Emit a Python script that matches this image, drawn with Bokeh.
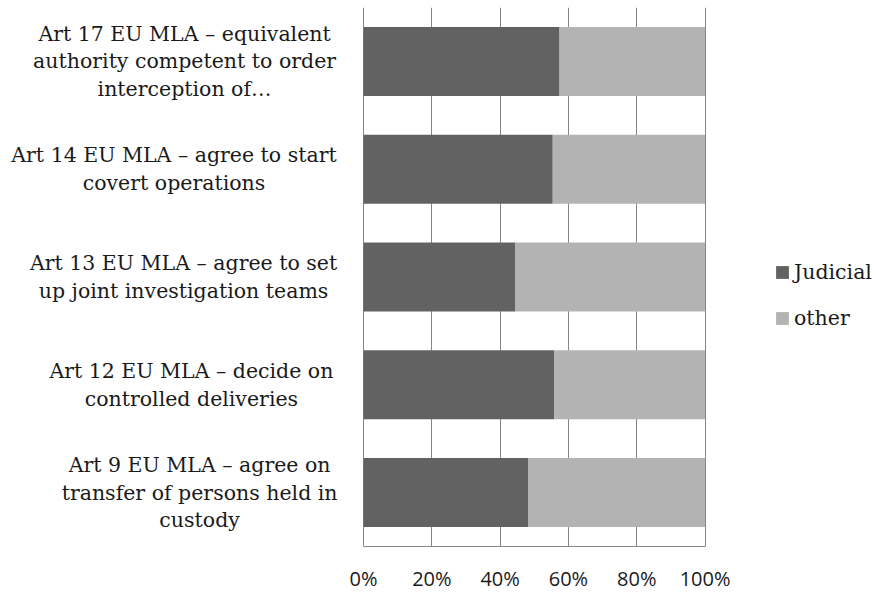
from bokeh.plotting import figure
from bokeh.models import FactorRange, Legend, LegendItem, FixedTicker, ColumnDataSource, Label, Range1d
from bokeh.embed import file_html
from bokeh.resources import INLINE

categories = [
    "Art 9 EU MLA – agree on\ntransfer of persons held in\ncustody",
    "Art 12 EU MLA – decide on\ncontrolled deliveries",
    "Art 13 EU MLA – agree to set\nup joint investigation teams",
    "Art 14 EU MLA – agree to start\ncovert operations",
    "Art 17 EU MLA – equivalent\nauthority competent to order\ninterception of…",
]
judicial = [48.3, 55.9, 44.5, 55.4, 57.4]
other = [51.7, 44.1, 55.5, 44.6, 42.6]
x_ticks = [0, 20, 40, 60, 80, 100]
x_tick_labels = ["0%", "20%", "40%", "60%", "80%", "100%"]
series_names = ["Judicial", "other"]
series_colors = ["#626262", "#b3b3b3"]

# layout: horizontal centre of each category label block, in % of the x axis (left of 0)
label_centres = [-48.0, -50.4, -52.7, -55.5, -52.4]
# visible x window of the frame (frame spans the whole canvas so side texts are not clipped)
x_view = (-106.3, 150.2)

LABEL_FONT = "DejaVu Serif"
LABEL_SIZE = "20.5px"
TEXT_COLOR = "#1a1a1a"
GRID = "#868686"

src = ColumnDataSource(dict(cat=categories, judicial=judicial, other=other))

p = figure(
    y_range=FactorRange(*categories, range_padding=0),
    x_range=Range1d(*x_view),
    frame_width=876, frame_height=539,
    min_border_left=0, min_border_top=7, min_border_bottom=44, min_border_right=0,
    output_backend="svg", toolbar_location=None,
)

rs = p.hbar_stack(["judicial", "other"], y="cat", height=0.64, color=series_colors,
                  source=src, line_color=None)

# categorical synthetic coordinate: centre of the i-th factor is i + 0.5
for i, (cat, cx) in enumerate(zip(categories, label_centres)):
    p.add_layout(Label(x=cx, y=i + 0.5, text=cat, text_align="center", text_baseline="middle",
                       text_font=LABEL_FONT, text_font_size=LABEL_SIZE, text_color=TEXT_COLOR,
                       text_line_height=1.15))

legend = Legend(items=[LegendItem(label=n, renderers=[r]) for n, r in zip(series_names, rs)],
                location=(774, 216))
legend.border_line_color = None
legend.background_fill_alpha = 0
legend.glyph_width = 16
legend.glyph_height = 16
legend.label_text_font = LABEL_FONT
legend.label_text_font_size = LABEL_SIZE
legend.label_text_color = TEXT_COLOR
legend.spacing = 22
legend.label_standoff = 4
legend.margin = 0
legend.padding = 0
legend.label_height = 16
p.add_layout(legend, "center")

p.xaxis.ticker = FixedTicker(ticks=x_ticks)
p.xaxis.bounds = (x_ticks[0], x_ticks[-1])
p.xaxis.major_label_overrides = {t: l for t, l in zip(x_ticks, x_tick_labels)}
p.xaxis.major_label_text_font = "Open Sans"
p.xaxis.major_label_text_font_size = "20px"
p.xaxis.major_label_text_color = TEXT_COLOR
p.xaxis.major_label_standoff = 12
p.xaxis.major_tick_line_color = None
p.xaxis.minor_tick_line_color = None
p.xaxis.axis_line_color = GRID

p.yaxis.visible = False

p.xgrid.grid_line_color = GRID
p.ygrid.grid_line_color = None
p.outline_line_color = None
p.background_fill_color = "white"
p.border_fill_color = "white"

open("out.html", "w").write(file_html(p, INLINE))
